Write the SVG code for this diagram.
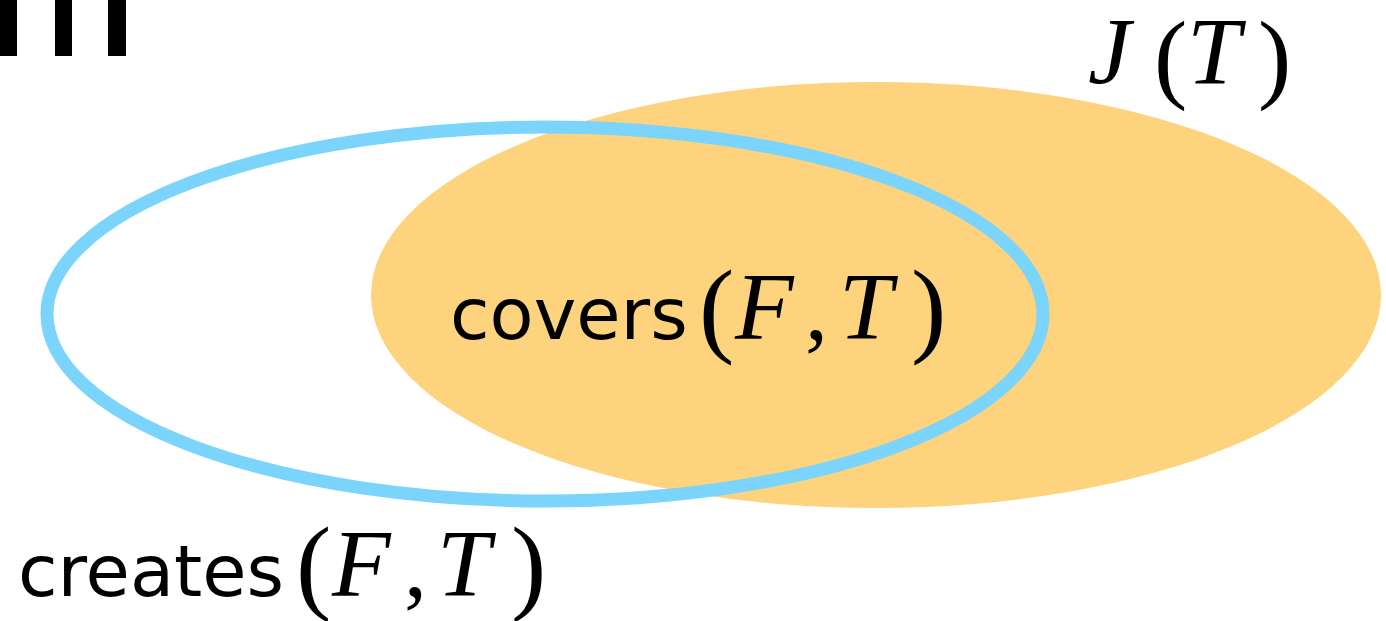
<svg xmlns="http://www.w3.org/2000/svg" width="1386" height="621" viewBox="0 0 1386 621">
<style>
.sans{font-family:"DejaVu Sans",sans-serif;font-size:72px;fill:#000}
.it{font-family:"Liberation Serif",serif;font-style:italic;font-size:96px;fill:#000}
.rm{font-family:"Liberation Serif",serif;font-size:92px;fill:#000}
.par{font-family:"Liberation Serif",serif;font-size:106px;fill:#000}
.par2{font-family:"Liberation Serif",serif;font-size:100px;fill:#000}
</style>
<rect width="1386" height="621" fill="#ffffff"/>
<g id="corner-mark" fill="#000">
<rect x="0" y="0" width="17" height="56"/>
<rect x="55" y="0" width="17" height="56"/>
<rect x="108" y="0" width="18" height="56"/>
</g>
<g id="J-set">
<ellipse cx="876" cy="295" rx="505" ry="213" fill="#FDD47D"/>
<text class="it" x="1088" y="84">J</text>
<text class="par2" x="1154" y="90">(</text>
<text class="it" x="1187" y="84">T</text>
<text class="par2" x="1258" y="90">)</text>
</g>
<g id="creates-set">
<ellipse cx="545" cy="314" rx="498" ry="187" fill="none" stroke="#7AD4FC" stroke-width="13"/>
<text class="sans" x="18" y="596">creates</text>
<text class="par" x="296" y="600">(</text>
<text class="it" x="332" y="596">F</text>
<text class="rm" x="404" y="596">,</text>
<text class="it" x="437" y="596">T</text>
<text class="par" x="511" y="600">)</text>
</g>
<g id="covers-label">
<text class="sans" x="450" y="339">covers</text>
<text class="par" x="699" y="343">(</text>
<text class="it" x="735" y="339">F</text>
<text class="rm" x="805" y="339">,</text>
<text class="it" x="839" y="339">T</text>
<text class="par" x="911" y="343">)</text>
</g>
</svg>
